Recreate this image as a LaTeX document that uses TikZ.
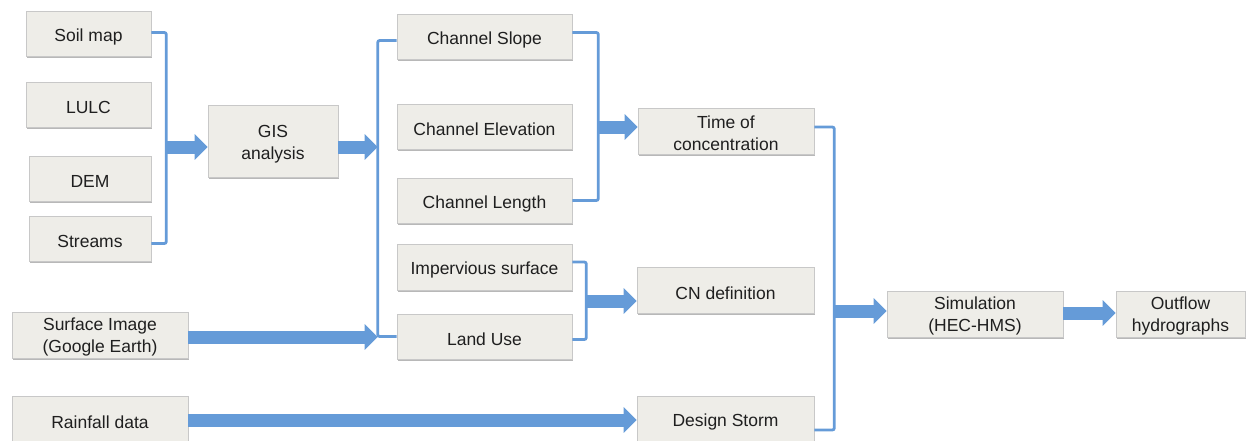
\documentclass[tikz,border=0pt]{standalone}
\usepackage{fontspec}
\setmainfont{Liberation Sans}
\usetikzlibrary{arrows.meta,shadows,calc}
\definecolor{arrowblue}{RGB}{101,155,216}
\definecolor{boxfill}{RGB}{238,237,232}
\definecolor{boxline}{RGB}{200,200,200}
\begin{document}
\begin{tikzpicture}[x=1pt,y=-1pt,
  box/.style={draw=boxline, line width=0.6pt, fill=boxfill,
    minimum width=#1, minimum height=45pt, inner sep=0pt,
    drop shadow={shadow xshift=0.8pt, shadow yshift=-2pt, fill=black, opacity=0.28}},
  box/.default=175pt,
  lbl/.style={inner sep=0pt, align=center,
    font=\fontsize{17.5}{21.5}\selectfont, text=black!88},
  txt/.style={label={[lbl, yshift=-3pt]center:#1}},
  txtt/.style={label={[lbl, yshift=-2pt]center:#1}},
  brk/.style={draw=arrowblue, line width=2.8pt, rounded corners=2pt},
  fat/.style={draw=arrowblue, line width=13pt, -{Triangle[length=13pt,width=25pt]}}]
\useasboundingbox (0,0) rectangle (1247,440);

% left inputs
\node[box=125pt, txt={Soil map}] (soil) at (88.5,33.5) {};
\node[box=125pt, txt={LULC}] (lulc) at (88.5,104.5) {};
\node[box=122pt, txt={DEM}] (dem) at (90,178.5) {};
\node[box=122pt, txt={Streams}] (streams) at (90,238.5) {};
\node[box=130pt, minimum height=72pt, txt={{GIS\\analysis}}] (gis) at (273,141) {};
\node[box=176pt, minimum height=46pt, txtt={{Surface Image\\(Google Earth)}}] (surface) at (100,335) {};
\node[box=176pt, minimum height=46pt, txt={Rainfall data}] (rain) at (100,419) {};

% middle column
\node[box, txt={Channel Slope}] (slope) at (484.5,36.5) {};
\node[box, txt={Channel Elevation}] (elev) at (484.5,126.5) {};
\node[box, txt={Channel Length}] (length) at (484.5,200.5) {};
\node[box, minimum height=46pt, txt={Impervious surface}] (imperv) at (484.5,267) {};
\node[box, txt={Land Use}] (landuse) at (484.5,336.5) {};

% right column
\node[box=176pt, minimum height=46pt, txtt={{Time of\\concentration}}] (tc) at (726,131) {};
\node[box=177pt, minimum height=46pt, txt={CN definition}] (cn) at (725.5,290) {};
\node[box=177pt, minimum height=46pt, txt={Design Storm}] (storm) at (725.5,419) {};
\node[box=176pt, minimum height=46pt, txtt={{Simulation\\(HEC-HMS)}}] (sim) at (975,314) {};
\node[box=129pt, minimum height=46pt, txtt={{Outflow\\hydrographs}}] (out) at (1180.5,314) {};

% bracket 1
\draw[brk] ([yshift=1pt]soil.east) -- ++(15,0) coordinate (b1) |- ([yshift=-5pt]streams.east);
\draw[fat] (b1 |- 0,147) -- (gis.west |- 0,147);

% bracket 2
\draw[brk] ([yshift=-4pt]slope.west) -- ++(-19,0) coordinate (b2) |- (landuse.west);
\draw[fat] (gis.east |- 0,147) -- (b2 |- 0,147);
\draw[fat] (surface.east |- 0,337) -- (b2 |- 0,337);

% bracket 3
\draw[brk] ([yshift=4pt]slope.east) -- ++(26,0) coordinate (b3) |- (length.east);
\draw[fat] (b3 |- 0,127) -- (tc.west |- 0,127);

% bracket CN
\draw[brk] ([yshift=5pt]imperv.east) -- ++(14,0) coordinate (b4) |- ([yshift=-3pt]landuse.east);
\draw[fat] (b4 |- 0,301) -- (cn.west |- 0,301);

% rainfall
\draw[fat] (rain.east |- 0,420) -- (storm.west |- 0,420);

% bracket 4
\draw[brk] ([yshift=4pt]tc.east) -- ++(20,0) coordinate (b5) |- ([yshift=-11pt]storm.east);
\draw[fat] (b5 |- 0,311) -- (sim.west |- 0,311);

\draw[fat] (sim.east |- 0,313) -- (out.west |- 0,313);
\end{tikzpicture}
\end{document}
